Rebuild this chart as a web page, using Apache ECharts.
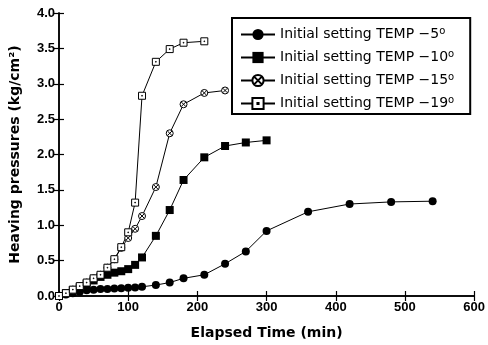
<!DOCTYPE html>
<html>
<head>
<meta charset="utf-8">
<script src="https://cdn.jsdelivr.net/npm/echarts@6/dist/echarts.min.js"></script>
<style>
  html, body { margin: 0; padding: 0; background: #fff; }
  #chart { width: 488px; height: 345px; }
</style>
</head>
<body>
<div id="chart"></div>
<script>
// Elapsed time (min) for each test and the measured heaving pressure (kg/cm²)
const timeM5  = [0, 10, 20, 30, 40, 50, 60, 70, 80, 90, 100, 110, 120, 140, 160, 180, 210, 240, 270, 300, 360, 420, 480, 540];
const presM5  = [0, 0.02, 0.04, 0.06, 0.08, 0.09, 0.10, 0.10, 0.105, 0.11, 0.115, 0.12, 0.13, 0.155, 0.19, 0.25, 0.30, 0.455, 0.63, 0.92, 1.19, 1.30, 1.33, 1.34];

const timeM10 = [0, 10, 20, 30, 40, 50, 60, 70, 80, 90, 100, 110, 120, 140, 160, 180, 210, 240, 270, 300];
const presM10 = [0, 0.04, 0.08, 0.12, 0.17, 0.22, 0.27, 0.30, 0.33, 0.35, 0.38, 0.44, 0.545, 0.85, 1.215, 1.64, 1.96, 2.12, 2.17, 2.20];

const timeM15 = [0, 10, 20, 30, 40, 50, 60, 70, 80, 90, 100, 110, 120, 140, 160, 180, 210, 240];
const presM15 = [0, 0.04, 0.09, 0.14, 0.19, 0.25, 0.30, 0.40, 0.52, 0.68, 0.82, 0.95, 1.13, 1.54, 2.30, 2.71, 2.87, 2.905];

const timeM19 = [0, 10, 20, 30, 40, 50, 60, 70, 80, 90, 100, 110, 120, 140, 160, 180, 210];
const presM19 = [0, 0.04, 0.09, 0.14, 0.19, 0.25, 0.30, 0.40, 0.52, 0.69, 0.90, 1.32, 2.83, 3.31, 3.49, 3.58, 3.60];

const seriesNames = ['Initial setting TEMP \u22125', 'Initial setting TEMP \u221210', 'Initial setting TEMP \u221215', 'Initial setting TEMP \u221219'];

const xTicks = { min: 0, max: 600, step: 100 };
const yTicks = { min: 0, max: 4, step: 0.5 };

const pair = (xs, ys) => xs.map((x, i) => [x, ys[i]]);

// open circle with a cross inside, and open square with a centre dot
const crossCircle = 'path://M10,0A10,10 0 1,1 9.99,0Z M3.5,3.5L16.5,16.5 M16.5,3.5L3.5,16.5';
const dotSquare = 'path://M0,0L20,0L20,20L0,20Z M9,9L11,9L11,11L9,11Z';

const FONT = 'Liberation Sans, Arial, sans-serif';
const WIDE = 'DejaVu Sans, Verdana, sans-serif';

function lineSeries(name, data, symbol, size, filled) {
  return {
    name: name,
    type: 'line',
    data: data,
    symbol: symbol,
    symbolSize: size,
    showSymbol: true,
    lineStyle: { color: '#000', width: 1 },
    itemStyle: filled
      ? { color: '#000', borderColor: '#000', borderWidth: 0 }
      : { color: '#fff', borderColor: '#000', borderWidth: 1 },
    emphasis: { disabled: true },
    animation: false,
    z: 3
  };
}

const chart = echarts.init(document.getElementById('chart'), null, { renderer: 'canvas' });

const axisLine = { show: true, lineStyle: { color: '#000', width: 1.5 } };
const tickIn = { show: true, inside: true, length: 5, lineStyle: { color: '#000', width: 1.2 } };

chart.setOption({
  backgroundColor: '#fff',
  animation: false,
  grid: { left: 54, right: 10, top: 13, bottom: 48, containLabel: false },
  legend: {
    data: seriesNames,
    left: 232,
    top: 18,
    width: 240,
    orient: 'vertical',
    padding: [8, 16, 2, 8],
    itemGap: 6,
    itemWidth: 34,
    itemHeight: 14,
    borderColor: '#000',
    borderWidth: 2,
    backgroundColor: '#fff',
    formatter: name => name + '{s|o}',
    textStyle: {
      color: '#000',
      fontFamily: WIDE,
      fontSize: 14,
      lineHeight: 17,
      rich: {
        s: { fontSize: 10, fontFamily: WIDE, color: '#000', lineHeight: 10, verticalAlign: 'bottom', padding: [0, 0, 7, 0] }
      }
    },
    z: 10
  },
  xAxis: [
    {
      type: 'value', min: xTicks.min, max: xTicks.max, interval: xTicks.step,
      name: 'Elapsed Time (min)', nameLocation: 'middle', nameGap: 30,
      nameTextStyle: { fontFamily: WIDE, fontWeight: 'bold', fontSize: 14, color: '#000' },
      axisLine: axisLine, axisTick: tickIn,
      axisLabel: { color: '#000', fontFamily: FONT, fontWeight: 'bold', fontSize: 13, margin: 5 },
      splitLine: { show: false }
    },
    {
      type: 'value', position: 'top', min: xTicks.min, max: xTicks.max, interval: xTicks.step,
      axisLine: axisLine, axisTick: tickIn, axisLabel: { show: false }, splitLine: { show: false }
    }
  ],
  yAxis: [
    {
      type: 'value', min: yTicks.min, max: yTicks.max, interval: yTicks.step,
      name: 'Heaving pressures (kg/cm\u00B2)', nameLocation: 'middle', nameGap: 37,
      nameTextStyle: { fontFamily: WIDE, fontWeight: 'bold', fontSize: 14, color: '#000' },
      axisLine: axisLine, axisTick: tickIn,
      axisLabel: { color: '#000', fontFamily: FONT, fontWeight: 'bold', fontSize: 13, margin: 4,
                   formatter: v => v.toFixed(1) },
      splitLine: { show: false }
    },
    {
      type: 'value', position: 'right', min: yTicks.min, max: yTicks.max, interval: yTicks.step,
      axisLine: axisLine, axisTick: tickIn, axisLabel: { show: false }, splitLine: { show: false }
    }
  ],
  series: [
    lineSeries(seriesNames[0], pair(timeM5, presM5), 'circle', 8, true),
    lineSeries(seriesNames[1], pair(timeM10, presM10), 'rect', 8, true),
    lineSeries(seriesNames[2], pair(timeM15, presM15), crossCircle, 7, false),
    lineSeries(seriesNames[3], pair(timeM19, presM19), dotSquare, 7, false)
  ]
});
</script>
</body>
</html>
